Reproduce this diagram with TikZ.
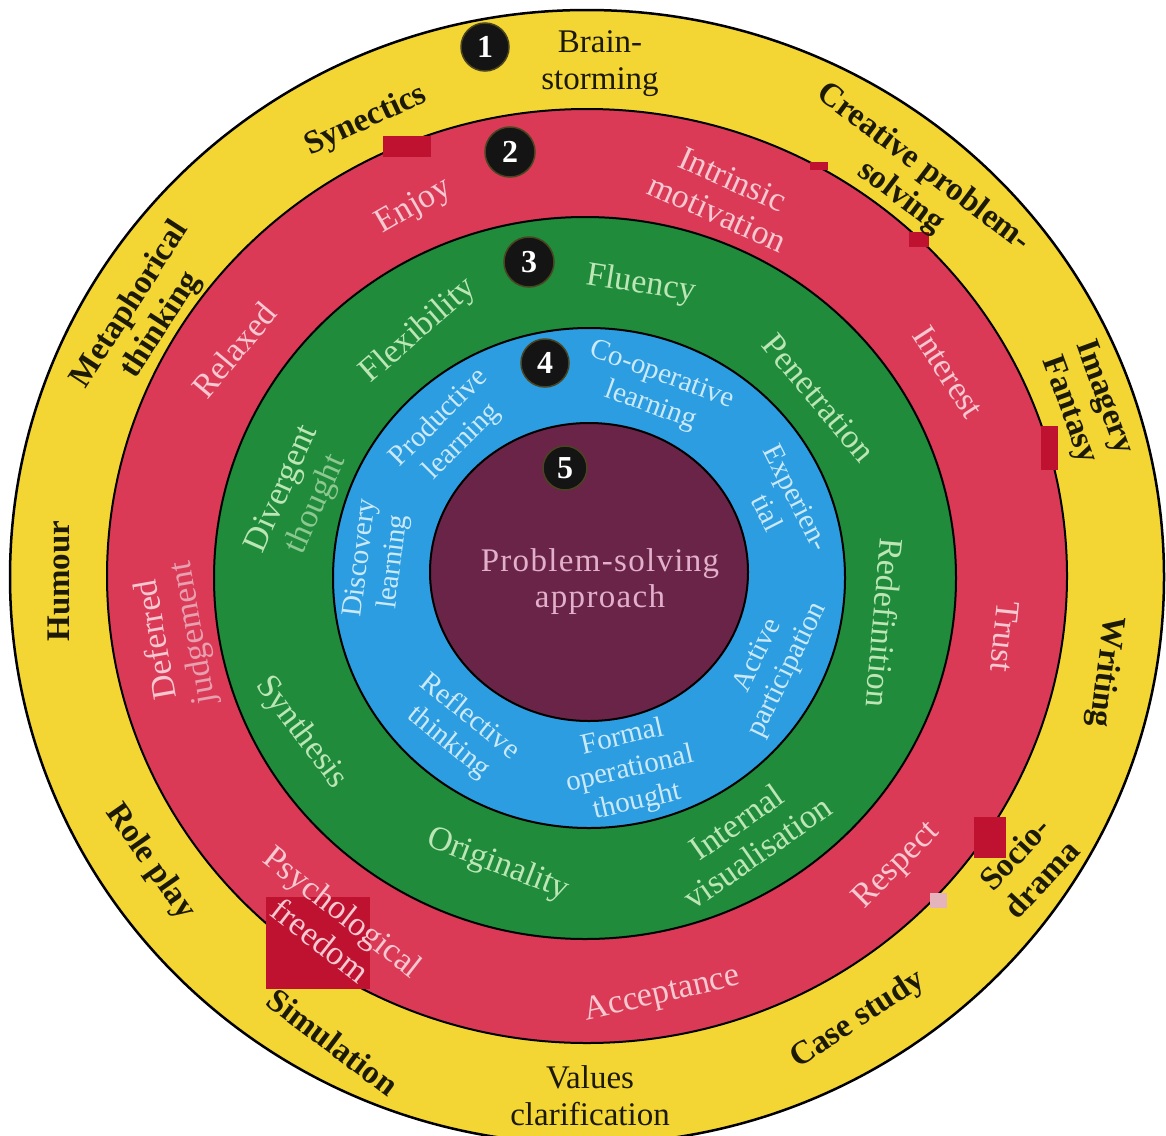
\documentclass[tikz,border=0pt]{standalone}
\usepackage{fontspec}
\setmainfont{Liberation Serif}
\definecolor{ringyellow}{HTML}{F3D634}
\definecolor{ringred}{HTML}{DB3A56}
\definecolor{ringgreen}{HTML}{1F8B3B}
\definecolor{ringblue}{HTML}{2C9DE0}
\definecolor{corepurple}{HTML}{6A2447}
\definecolor{inkdark}{HTML}{1C1A05}
\definecolor{inkpink}{HTML}{F6C8D1}
\definecolor{inkpinkfaded}{HTML}{E6A0B0}
\definecolor{inkgreen}{HTML}{BCE6B6}
\definecolor{inkgreenfaded}{HTML}{8CC890}
\definecolor{inkblue}{HTML}{CBE9F8}
\definecolor{inkcore}{HTML}{E2B0CA}
\definecolor{patchred}{HTML}{BE1230}
\definecolor{patchpale}{HTML}{E4B3BC}
\definecolor{badgeedge}{HTML}{4A4420}
\begin{document}
\begin{tikzpicture}[x=1pt,y=-1pt,
  lbl/.style={inner sep=0pt,align=center},
  ybold/.style={lbl,text=inkdark,font=\fontsize{33}{37}\selectfont\bfseries},
  yplain/.style={lbl,text=inkdark,font=\fontsize{33}{37}\selectfont},
  rtext/.style={lbl,text=inkpink,font=\fontsize{34}{37}\selectfont},
  gtext/.style={lbl,text=inkgreen,font=\fontsize{34}{37}\selectfont},
  btext/.style={lbl,text=inkblue,font=\fontsize{29}{33}\selectfont},
  ctext/.style={lbl,text=inkcore,font=\fontsize{33}{36}\selectfont\addfontfeature{LetterSpace=4}},
  badge/.style={circle,fill=black!92,draw=badgeedge,line width=1.5pt,text=white,
    font=\fontsize{32}{32}\selectfont\bfseries,inner sep=0pt,minimum size=#1},
  patch/.style={fill=#1,draw=none},
]
% canvas
\fill[white] (0,0) rectangle (1166,1135);
\useasboundingbox (0,0) rectangle (1166,1135);

% concentric rings, outermost first
\path[fill=ringyellow,draw=black,line width=2.5pt] (587,577) ellipse [x radius=577, y radius=567];
\path[fill=ringred,draw=black,line width=2pt] (587,576) ellipse [x radius=480, y radius=467];
\path[fill=ringgreen,draw=black,line width=2pt] (585,578) ellipse [x radius=371, y radius=361];
\path[fill=ringblue,draw=black,line width=2pt] (589,578) ellipse [x radius=256, y radius=250];

% ring 4 labels, kept inside the blue band
\begin{scope}
  \clip (589,578) ellipse [x radius=255, y radius=249];
  \node[btext, rotate=-20] (coop) at (656,391) {Co-operative\\learning};
  \node[btext, rotate=-63] (experiential) at (782,505) {Experien-\\tial};
  \node[btext, rotate=64] (active) at (773,663) {Active\\participation};
  \node[btext, rotate=13] (formal) at (630,770) {Formal\\operational\\thought};
  \node[btext, rotate=-39] (reflective) at (459,730) {Reflective\\thinking};
  \node[btext, rotate=83] (discovery) at (378,560) {Discovery\\learning};
  \node[btext, rotate=45] (productive) at (451,430) {Productive\\learning};
\end{scope}

% core
\path[fill=corepurple,draw=black,line width=2pt] (589,572) ellipse [x radius=159, y radius=149];
\node[ctext] (core) at (600,582) {Problem-solving\\approach};

% print blemishes
\path[patch=patchred] (383,136) rectangle (431,157);
\path[patch=patchred] (810,162) rectangle (828,170);
\path[patch=patchred] (909,232) rectangle (929,247);
\path[patch=patchred] (1041,426) rectangle (1058,470);
\path[patch=patchred] (974,817) rectangle (1006,858);
\path[patch=patchpale] (930,893) rectangle (947,908);
\path[patch=patchred] (266,897) rectangle (370,989);

% ring 1: techniques
\node[yplain] (brain) at (600,64) {Brain-\\storming};
\node[ybold, rotate=25] (synectics) at (366,121) {Synectics};
\node[ybold, rotate=-37] (cps) at (912,183) {Creative problem-\\solving};
\node[ybold, rotate=57] (metaphor) at (146,315) {Metaphorical\\thinking};
\node[ybold, rotate=90] (humour) at (59,581) {Humour};
\node[ybold, rotate=-55] (roleplay) at (150,862) {Role play};
\node[ybold, rotate=-37] (simulation) at (333,1042) {Simulation};
\node[yplain] (values) at (590,1096) {Values\\clarification};
\node[ybold, rotate=33] (casestudy) at (858,1020) {Case study};
\node[ybold, rotate=47] (sociodrama) at (1028,866) {Socio-\\drama};
\node[ybold, rotate=-97] (writing) at (1105,672) {Writing};
\node[ybold, rotate=-70] (imagery) at (1086,404) {Imagery\\Fantasy};

% ring 2: climate
\node[rtext, rotate=30] (enjoy) at (414,207) {Enjoy};
\node[rtext, rotate=-24] (intrinsic) at (725,196) {Intrinsic\\motivation};
\node[rtext, rotate=-57] (interest) at (948,372) {Interest};
\node[rtext, rotate=-96] (trust) at (1005,637) {Trust};
\node[rtext, rotate=45] (respect) at (897,866) {Respect};
\node[rtext, rotate=13] (acceptance) at (662,995) {Acceptance};
\node[rtext, rotate=-38] (psych) at (332,926) {Psychological\\freedom};
\node[rtext, rotate=100] (deferred) at (176,636) {Deferred\\\textcolor{inkpinkfaded}{judgement}};
\node[rtext, rotate=50] (relaxed) at (234,350) {Relaxed};

% ring 3: thinking abilities
\node[gtext, rotate=-9] (fluency) at (641,285) {Fluency};
\node[gtext, rotate=-50] (penetration) at (819,398) {Penetration};
\node[gtext, rotate=-95] (redefinition) at (885,623) {Redefinition};
\node[gtext, rotate=35] (internal) at (747,837) {Internal\\visualisation};
\node[gtext, rotate=-21] (originality) at (498,865) {Originality};
\node[gtext, rotate=-53] (synthesis) at (301,733) {Synthesis};
\node[gtext, rotate=66] (divergent) at (300,497) {Divergent\\\textcolor{inkgreenfaded}{thought}};
\node[gtext, rotate=41] (flexibility) at (419,331) {Flexibility};

% ring numbers
\node[badge=48pt] (b1) at (485,47) {1};
\node[badge=50pt] (b2) at (510,152) {2};
\node[badge=50pt] (b3) at (529,262) {3};
\node[badge=48pt] (b4) at (545,363) {4};
\node[badge=44pt] (b5) at (565,468) {5};
\end{tikzpicture}
\end{document}
